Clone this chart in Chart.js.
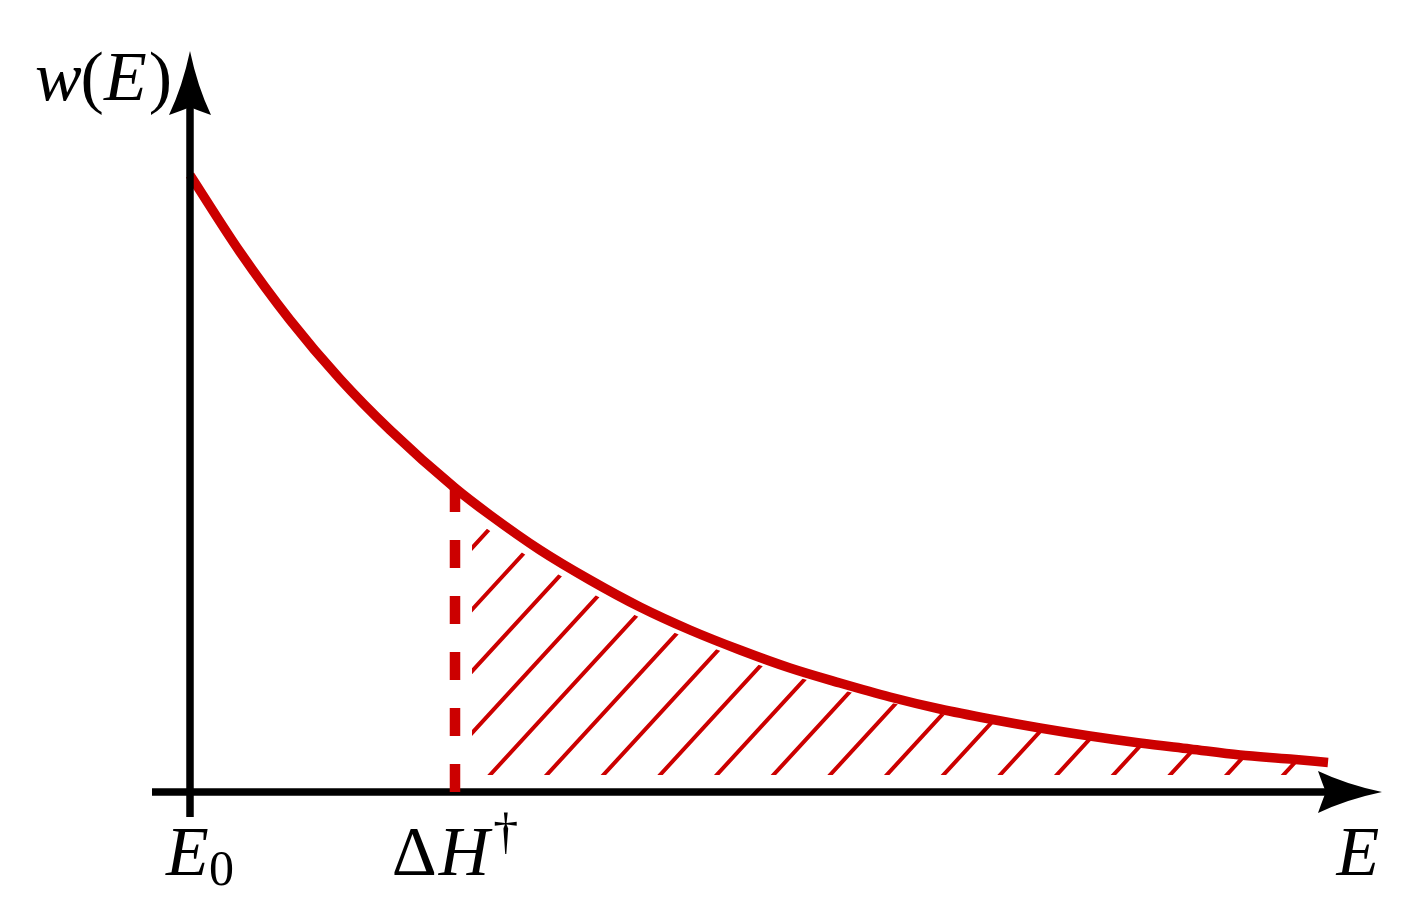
<!DOCTYPE html>
<html>
<head>
<meta charset="utf-8">
<script src="https://cdn.jsdelivr.net/npm/chart.js@4/dist/chart.umd.min.js"></script>
<style>
  html, body { margin: 0; padding: 0; background: #ffffff; }
  #c { display: block; }
</style>
</head>
<body>
<canvas id="c" width="1425" height="918"></canvas>
<script>
// ---- data ----
const E_VALUES = [0, 0.5, 1.0, 1.5, 2.0, 2.65, 3.0, 3.5, 4.0, 4.5, 5.0, 5.5, 6.0, 6.5, 7.0, 7.5, 8.0, 8.5, 9.0, 9.5, 10.0, 10.5, 11.0, 11.38];
const W_VALUES = [6.17, 5.40, 4.72, 4.13, 3.62, 3.04, 2.77, 2.42, 2.12, 1.85, 1.62, 1.42, 1.24, 1.09, 0.95, 0.83, 0.73, 0.64, 0.56, 0.49, 0.43, 0.37, 0.33, 0.295];
const DELTA_H = 2.65;          // position of the activation-enthalpy threshold
const W_AT_DELTA_H = 3.04;     // curve height at the threshold
const X_RANGE = [-0.38, 11.92];
const Y_RANGE = [-0.25, 7.41];
const LABEL_Y = 'w(E)';
const LABEL_X = 'E';
const TICK_LABELS = ['E0', 'ΔH†'];

// ---- style ----
const RED = '#cc0000';
const BLACK = '#000000';
const SERIF = '"Liberation Serif", "DejaVu Serif", serif';

function px(chart, v) { return chart.scales.x.getPixelForValue(v); }
function py(chart, v) { return chart.scales.y.getPixelForValue(v); }

const hatchPlugin = {
  id: 'hatch',
  beforeDatasetsDraw(chart) {
    const ctx = chart.ctx;
    const area = chart.chartArea;
    const meta = chart.getDatasetMeta(0);
    const pts = meta.data;
    const unitX = px(chart, 1) - px(chart, 0);
    const shift = 0.22 * unitX;
    const inset = 0.17 * unitX;
    const left = px(chart, DELTA_H) + inset;
    const bottom = py(chart, 0) - inset;

    ctx.save();
    ctx.beginPath();
    ctx.rect(left, area.top, area.right - left, bottom - area.top);
    ctx.clip();

    ctx.beginPath();
    ctx.save();
    ctx.translate(-shift, 0);
    if (meta.dataset && typeof meta.dataset.path === 'function') {
      meta.dataset.path(ctx);
    } else {
      pts.forEach((p, i) => i ? ctx.lineTo(p.x, p.y) : ctx.moveTo(p.x, p.y));
    }
    ctx.restore();
    const last = pts[pts.length - 1];
    ctx.lineTo(last.x - shift, py(chart, 0) + 50);
    ctx.lineTo(pts[0].x - shift, py(chart, 0) + 50);
    ctx.closePath();
    ctx.clip();

    // diagonal hatch lines
    ctx.strokeStyle = RED;
    ctx.lineWidth = 4;
    ctx.lineCap = 'butt';
    const slope = 1.088;
    const spacing = 56.67;
    const x0 = px(chart, DELTA_H) + 35;
    const H = bottom - area.top + 40;
    ctx.beginPath();
    for (let k = -20; k < 30; k++) {
      const bx = x0 + k * spacing;
      ctx.moveTo(bx - 20 / slope, bottom + 20);
      ctx.lineTo(bx + H / slope, bottom - H);
    }
    ctx.stroke();
    ctx.restore();

    // x axis (drawn beneath the curves)
    drawXAxis(chart);
  },
  afterDatasetsDraw(chart) {
    drawYAxis(chart);
    drawLabels(chart);
  }
};

function arrowHead(ctx, tipX, tipY, dirX, dirY) {
  // latex-like arrow head, length 64, half-width 21
  const L = 64, W = 21, notch = 8;
  const nx = -dirY, ny = dirX;
  const bx = tipX - dirX * L, by = tipY - dirY * L;
  const c1x = bx + nx * W, c1y = by + ny * W;
  const c2x = bx - nx * W, c2y = by - ny * W;
  const mx = tipX - dirX * (L - notch), my = tipY - dirY * (L - notch);
  ctx.beginPath();
  ctx.moveTo(tipX, tipY);
  ctx.quadraticCurveTo(tipX - dirX * L * 0.55 + nx * W * 0.35, tipY - dirY * L * 0.55 + ny * W * 0.35, c1x, c1y);
  ctx.quadraticCurveTo(mx - dirX * 2 + nx * 4, my - dirY * 2 + ny * 4, mx, my);
  ctx.quadraticCurveTo(mx - dirX * 2 - nx * 4, my - dirY * 2 - ny * 4, c2x, c2y);
  ctx.quadraticCurveTo(tipX - dirX * L * 0.55 - nx * W * 0.35, tipY - dirY * L * 0.55 - ny * W * 0.35, tipX, tipY);
  ctx.closePath();
  ctx.fill();
}

function drawXAxis(chart) {
  const ctx = chart.ctx, area = chart.chartArea;
  const y0 = py(chart, 0);
  ctx.save();
  ctx.strokeStyle = BLACK; ctx.fillStyle = BLACK;
  ctx.lineWidth = 7.5; ctx.lineCap = 'butt';
  ctx.beginPath();
  ctx.moveTo(area.left, y0);
  ctx.lineTo(area.right - 50, y0);
  ctx.stroke();
  arrowHead(ctx, area.right, y0, 1, 0);
  ctx.restore();
}

function drawYAxis(chart) {
  const ctx = chart.ctx, area = chart.chartArea;
  const x0 = px(chart, 0);
  ctx.save();
  ctx.strokeStyle = BLACK; ctx.fillStyle = BLACK;
  ctx.lineWidth = 7.5; ctx.lineCap = 'butt';
  ctx.beginPath();
  ctx.moveTo(x0, area.bottom);
  ctx.lineTo(x0, area.top + 50);
  ctx.stroke();
  arrowHead(ctx, x0, area.top, 0, -1);
  ctx.restore();
}

function drawRuns(ctx, runs, x, baseline, align) {
  let total = 0;
  runs.forEach(r => { ctx.font = r.font; r.w = ctx.measureText(r.text).width; total += r.w + (r.gap || 0); });
  let cx = align === 'right' ? x - total : align === 'center' ? x - total / 2 : x;
  ctx.textAlign = 'left';
  ctx.textBaseline = 'alphabetic';
  runs.forEach(r => {
    ctx.font = r.font;
    ctx.fillText(r.text, cx, baseline + (r.dy || 0));
    cx += r.w + (r.gap || 0);
  });
}

function drawLabels(chart) {
  const ctx = chart.ctx, area = chart.chartArea;
  const I = 'italic 70px ' + SERIF;
  const R = '70px ' + SERIF;
  const S = '50px ' + SERIF;
  ctx.save();
  ctx.fillStyle = BLACK;
  // y label: w(E)
  drawRuns(ctx, [
    { text: LABEL_Y[0], font: I, gap: -1 },
    { text: LABEL_Y[1], font: R },
    { text: LABEL_Y[2], font: I, gap: 2 },
    { text: LABEL_Y[3], font: R }
  ], px(chart, 0) - 18, area.top + 49, 'right');
  const base = py(chart, 0) + 83;
  // E0
  drawRuns(ctx, [
    { text: TICK_LABELS[0][0], font: I, gap: 0 },
    { text: TICK_LABELS[0].slice(1), font: S, dy: 10 }
  ], px(chart, 0) + 10, base, 'center');
  // ΔH†
  drawRuns(ctx, [
    { text: TICK_LABELS[1][0], font: R, gap: 2 },
    { text: TICK_LABELS[1][1], font: I, gap: 4 },
    { text: TICK_LABELS[1][2], font: S, dy: -27 }
  ], px(chart, DELTA_H), base, 'center');
  // E
  drawRuns(ctx, [{ text: LABEL_X, font: I }], area.right - 24, base, 'center');
  ctx.restore();
}

new Chart(document.getElementById('c'), {
  type: 'line',
  data: {
    datasets: [
      {
        label: 'w(E)',
        data: E_VALUES.map((e, i) => ({ x: e, y: W_VALUES[i] })),
        borderColor: RED,
        borderWidth: 9.5,
        pointRadius: 0,
        fill: false,
        cubicInterpolationMode: 'monotone',
        borderCapStyle: 'butt',
        order: 0
      },
      {
        label: 'threshold',
        data: [{ x: DELTA_H, y: 0 }, { x: DELTA_H, y: W_AT_DELTA_H }],
        borderColor: RED,
        borderWidth: 10.5,
        borderDash: [28, 28],
        borderCapStyle: 'butt',
        pointRadius: 0,
        fill: false,
        order: 1
      }
    ]
  },
  options: {
    responsive: false,
    animation: false,
    events: [],
    layout: { padding: { left: 152, right: 43, top: 51, bottom: 101 } },
    plugins: { legend: { display: false }, tooltip: { enabled: false } },
    scales: {
      x: { type: 'linear', display: false, min: X_RANGE[0], max: X_RANGE[1] },
      y: { type: 'linear', display: false, min: Y_RANGE[0], max: Y_RANGE[1] }
    }
  },
  plugins: [hatchPlugin]
});
</script>
</body>
</html>
